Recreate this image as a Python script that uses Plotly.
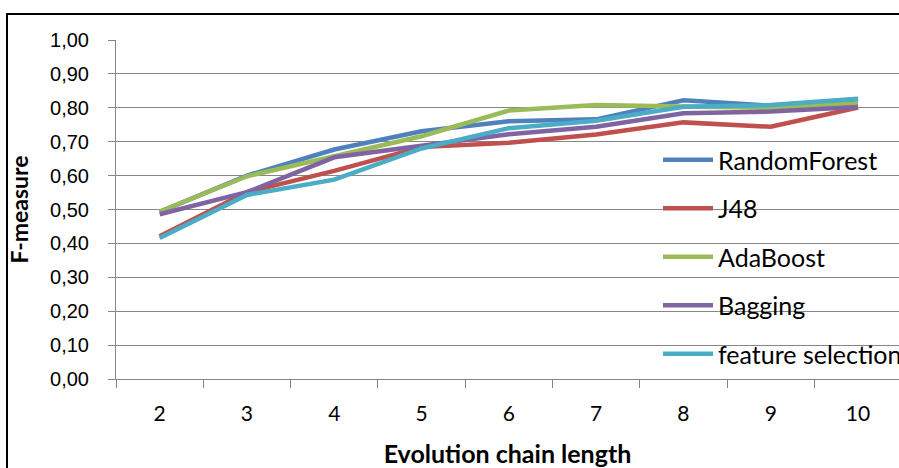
import plotly.graph_objects as go

chain_length = [2, 3, 4, 5, 6, 7, 8, 9, 10]
random_forest = [0.493, 0.600, 0.677, 0.731, 0.760, 0.766, 0.822, 0.806, 0.825]
j48 = [0.421, 0.551, 0.614, 0.684, 0.697, 0.721, 0.757, 0.744, 0.801]
adaboost = [0.494, 0.598, 0.657, 0.716, 0.792, 0.808, 0.804, 0.800, 0.813]
bagging = [0.486, 0.551, 0.654, 0.688, 0.722, 0.744, 0.784, 0.789, 0.802]
feature_selection = [0.416, 0.543, 0.588, 0.680, 0.740, 0.762, 0.803, 0.808, 0.827]

series = [
    ("RandomForest", random_forest, "#4F81BD"),
    ("J48", j48, "#C0504D"),
    ("AdaBoost", adaboost, "#9BBB59"),
    ("Bagging", bagging, "#8064A2"),
    ("feature selection", feature_selection, "#4BACC6"),
]

fig = go.Figure()
for i, (name, vals, col) in enumerate(series):
    fig.add_trace(go.Scatter(
        x=chain_length, y=vals, name=name, mode="lines",
        line=dict(color=col, width=4.5), legendgroup=f"g{i}",
    ))

W, H = 899, 468
L, R, T, B = 116, 0, 40, 89
pw, ph = W - L - R, H - T - B
cat_w = 87.3

def px_x(p):
    return (p - L) / pw

def px_y(p):
    return (H - B - p) / ph

fig.update_layout(
    width=W, height=H,
    margin=dict(l=L, r=R, t=T, b=B, autoexpand=False),
    plot_bgcolor="white", paper_bgcolor="white",
    separators=", ",
    font=dict(family="Lato, Liberation Sans, sans-serif", color="#000000"),
    legend=dict(
        x=px_x(658), y=px_y(137), xanchor="left", yanchor="top",
        font=dict(size=25, family="Lato, sans-serif", color="#000000"),
        bgcolor="rgba(0,0,0,0)", tracegroupgap=13, itemwidth=50,
    ),
    shapes=[dict(
        type="rect", xref="paper", yref="paper",
        x0=px_x(7), x1=px_x(W + 20), y0=px_y(H + 20), y1=px_y(14),
        line=dict(color="black", width=2), fillcolor="rgba(0,0,0,0)", layer="below",
    )],
)

fig.update_xaxes(
    range=[1.5, 1.5 + pw / cat_w], automargin=False,
    tickvals=chain_length, ticks="", showgrid=False,
    showline=True, linecolor="#868686", linewidth=1,
    tickfont=dict(size=21, family="Lato, sans-serif", color="#000000"),
    ticklabelstandoff=16,
    minor=dict(tick0=1.5, dtick=1, ticks="outside", ticklen=8, tickcolor="#868686", showgrid=False),
    title=dict(text="<b>Evolution chain length</b>", font=dict(size=25, family="Lato, sans-serif"), standoff=22),
    zeroline=False,
)
fig.update_yaxes(
    range=[0, 1.0], dtick=0.1, tickformat=".2f", automargin=False,
    showgrid=True, gridcolor="#868686", gridwidth=1,
    showline=True, linecolor="#868686", linewidth=1,
    ticks="outside", ticklen=7, tickcolor="#868686",
    ticklabelstandoff=15,
    tickfont=dict(size=20, family="Liberation Sans, Arial, sans-serif", color="#000000"),
    title=dict(text="<b>F-measure</b>", font=dict(size=23, family="Lato, sans-serif"), standoff=15),
    zeroline=False,
)

fig.write_html(
    "out.html",
    config={"displayModeBar": False},
    post_script="document.body.style.margin='0';document.body.style.overflow='hidden';",
)
